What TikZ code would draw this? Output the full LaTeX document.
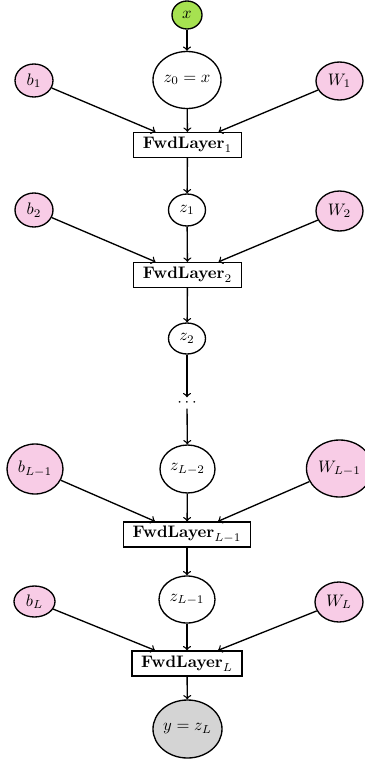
\documentclass[tikz,border=0pt]{standalone}
\usetikzlibrary{shapes.geometric,calc}
\definecolor{ingreen}{RGB}{166,226,80}
\definecolor{parpink}{RGB}{248,204,230}
\definecolor{outgray}{RGB}{212,212,212}
\tikzset{
  ell/.style 2 args={ellipse, draw, line width=0.8pt, inner sep=0pt, minimum width=#1, minimum height=#2},
  par/.style={fill=parpink},
  layerbox/.style={rectangle, draw, line width=0.8pt, inner xsep=5.5pt, inner ysep=0pt, minimum height=15pt},
  arr/.style={->, line width=0.8pt},
}
\begin{document}
\begin{tikzpicture}[x=0.6pt,y=-0.6pt]
\useasboundingbox (0,0) rectangle (364,761);
% nodes
\node[ell={18pt}{16.8pt}, fill=ingreen] (x) at (187,15) {$x$};
\node[ell={40.8pt}{34.2pt}] (z0) at (187,80) {$z_0 = x$};
\node[ell={22.8pt}{19.8pt}, par] (b1) at (34,80.5) {$b_1$};
\node[ell={28.2pt}{22.8pt}, par] (W1) at (339.5,81) {$W_1$};
\node[layerbox] (f1) at (187.5,145) {$\textbf{FwdLayer}_1$};

\node[ell={22.2pt}{19.2pt}] (z1) at (187,210) {$z_1$};
\node[ell={22.8pt}{20.4pt}, par] (b2) at (34,210) {$b_2$};
\node[ell={28.2pt}{24pt}, par] (W2) at (339.5,211) {$W_2$};
\node[layerbox] (f2) at (187.5,275) {$\textbf{FwdLayer}_2$};

\node[ell={22.2pt}{18.6pt}] (z2) at (187,338.5) {$z_2$};
\node[inner sep=1pt] (dots) at (187,403) {$\cdots$};

\node[ell={33pt}{28.8pt}] (zL2) at (187.5,469) {$z_{L-2}$};
\node[ell={33.6pt}{30pt}, par] (bL1) at (35,469) {$b_{L-1}$};
\node[ell={39.6pt}{34.2pt}, par] (WL1) at (339.5,468.5) {$W_{L-1}$};
\node[layerbox] (fL1) at (187,534.5) {$\textbf{FwdLayer}_{L-1}$};

\node[ell={33.6pt}{28.2pt}] (zL1) at (187,599.5) {$z_{L-1}$};
\node[ell={24.6pt}{18.6pt}, par] (bL) at (34.5,601.5) {$b_L$};
\node[ell={28.8pt}{24pt}, par] (WL) at (339,602) {$W_L$};
\node[layerbox] (fL) at (187,663.5) {$\textbf{FwdLayer}_L$};

\node[ell={41.4pt}{34.8pt}, fill=outgray] (y) at (187.5,729) {$y = z_L$};

% edges
\draw[arr] (x) -- (z0);
\foreach \z/\b/\W/\f in {z0/b1/W1/f1, z1/b2/W2/f2, zL2/bL1/WL1/fL1, zL1/bL/WL/fL}{
  \draw[arr] (\z) -- (\f);
  \draw[arr] (\b) -- ($(\f.north)+(-32,0)$);
  \draw[arr] (\W) -- ($(\f.north)+(31,0)$);
}
\draw[arr] (f1) -- (z1);
\draw[arr] (f2) -- (z2);
\draw[arr] (z2) -- (dots);
\draw[arr] (dots) -- (zL2);
\draw[arr] (fL1) -- (zL1);
\draw[arr] (fL) -- (y);
\end{tikzpicture}
\end{document}
